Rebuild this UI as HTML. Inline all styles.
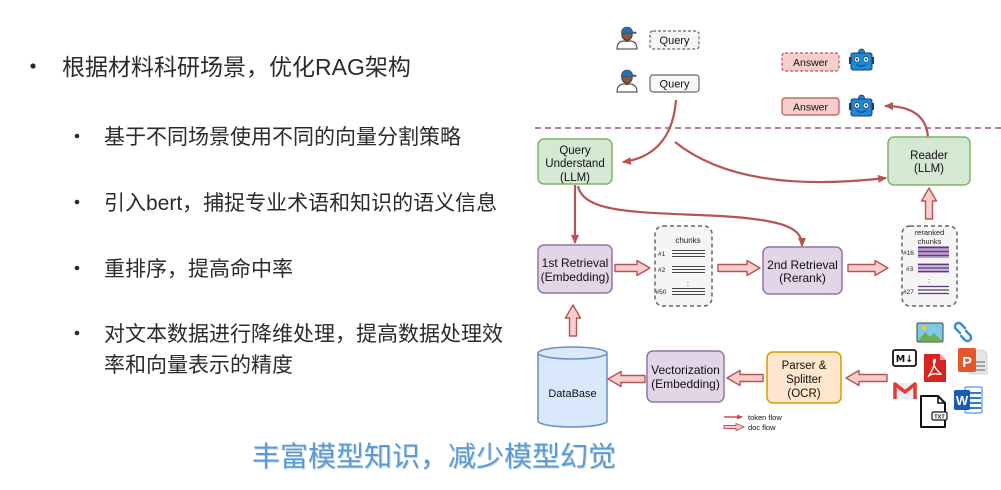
<!DOCTYPE html>
<html><head><meta charset="utf-8"><style>
html,body{margin:0;padding:0;background:#fff;}
svg{display:block}
</style></head><body>
<svg width="1001" height="490" viewBox="0 0 1001 490" xmlns="http://www.w3.org/2000/svg">
<defs>
<marker id="ah" markerWidth="10" markerHeight="10" refX="8" refY="5" orient="auto" markerUnits="userSpaceOnUse">
<path d="M0,1 L9,5 L0,9 z" fill="#b85450"/>
</marker>
<marker id="ahs" markerWidth="6" markerHeight="6" refX="5" refY="3" orient="auto" markerUnits="userSpaceOnUse">
<path d="M0,0.5 L6,3 L0,5.5 z" fill="#b85450"/>
</marker>
</defs>
<rect width="1001" height="490" fill="#fff"/>

<!-- Left text -->
<g font-family='"Liberation Sans","Noto Sans CJK SC",sans-serif' fill="#2b2b2b">
<circle cx="33" cy="66" r="2.6"/>
<text x="62" y="75" font-size="23">根据材料科研场景，优化RAG架构</text>
<circle cx="77" cy="136" r="2.3"/>
<text x="104" y="144" font-size="21">基于不同场景使用不同的向量分割策略</text>
<circle cx="77" cy="202" r="2.3"/>
<text x="104" y="210" font-size="21">引入bert，捕捉专业术语和知识的语义信息</text>
<circle cx="77" cy="268" r="2.3"/>
<text x="104" y="276" font-size="21">重排序，提高命中率</text>
<circle cx="77" cy="333" r="2.3"/>
<text x="104" y="341" font-size="21">对文本数据进行降维处理，提高数据处理效</text>
<text x="104" y="372" font-size="21">率和向量表示的精度</text>
</g>
<g font-family='"Liberation Sans","Noto Sans CJK SC",sans-serif' font-size="28">
<text x="253" y="467" fill="#c9d6e3">丰富模型知识，减少模型幻觉</text>
<text x="252" y="466" fill="#5b9bd5">丰富模型知识，减少模型幻觉</text>
</g>

<!-- dashed separator -->
<line x1="535" y1="128" x2="1001" y2="128" stroke="#b97ca0" stroke-width="2" stroke-dasharray="6,4"/>

<!-- persons -->
<g>
<path d="M617,49 Q617,42 623,41 L631,41 Q637,42 637,49 Z" fill="#fff" stroke="#333" stroke-width="1"/>
<rect x="625" y="38" width="4" height="4" fill="#8b5a3c"/>
<circle cx="627" cy="35" r="5.2" fill="#8b5a3c" stroke="#333" stroke-width="0.8"/>
<path d="M621.5,32 A5.5,5 0 0 1 632.5,32 L636,32 L636,33.5 L621.5,33.5 Z" fill="#2a6db5" stroke="#1f3e66" stroke-width="0.6"/>
</g>
<g transform="translate(0,43)">
<path d="M617,49 Q617,42 623,41 L631,41 Q637,42 637,49 Z" fill="#fff" stroke="#333" stroke-width="1"/>
<rect x="625" y="38" width="4" height="4" fill="#8b5a3c"/>
<circle cx="627" cy="35" r="5.2" fill="#8b5a3c" stroke="#333" stroke-width="0.8"/>
<path d="M621.5,32 A5.5,5 0 0 1 632.5,32 L636,32 L636,33.5 L621.5,33.5 Z" fill="#2a6db5" stroke="#1f3e66" stroke-width="0.6"/>
</g>

<g font-family='"Liberation Sans",sans-serif' fill="#111" text-anchor="middle">
<rect x="650" y="31" width="49" height="18" rx="3" fill="#f5f5f5" stroke="#666" stroke-width="1.2" stroke-dasharray="3,2"/>
<text x="674.5" y="44" font-size="11">Query</text>
<rect x="650" y="75" width="49" height="17" rx="3" fill="#f7f7f7" stroke="#666" stroke-width="1.2"/>
<text x="674.5" y="87.5" font-size="11">Query</text>

<rect x="782" y="53" width="57" height="18" rx="3" fill="#f8cecc" stroke="#b85450" stroke-width="1.2" stroke-dasharray="3,2"/>
<text x="810.5" y="66" font-size="10.5">Answer</text>
<rect x="782" y="98" width="57" height="17" rx="3" fill="#f8cecc" stroke="#b85450" stroke-width="1.2"/>
<text x="810.5" y="110.5" font-size="10.5">Answer</text>
</g>

<!-- robots -->
<g>
<circle cx="861.5" cy="52" r="3" fill="#1d8ad9" stroke="#1a3b6a" stroke-width="0.8"/>
<rect x="849" y="57" width="3" height="7" fill="#1a3b6a"/>
<rect x="871" y="57" width="3" height="7" fill="#1a3b6a"/>
<rect x="851" y="53" width="21" height="17" rx="2" fill="#1d8ad9" stroke="#1a3b6a" stroke-width="1"/>
<circle cx="857" cy="59.5" r="2.8" fill="#fff" stroke="#1a3b6a" stroke-width="0.7"/>
<circle cx="866" cy="59.5" r="2.8" fill="#fff" stroke="#1a3b6a" stroke-width="0.7"/>
<circle cx="857" cy="59.5" r="1.1" fill="#1a3b6a"/>
<circle cx="866" cy="59.5" r="1.1" fill="#1a3b6a"/>
<path d="M856.5,64.5 Q861.5,68 866.5,64.5" fill="none" stroke="#1a3b6a" stroke-width="1"/>
</g>
<g transform="translate(0,46)">
<circle cx="861.5" cy="52" r="3" fill="#1d8ad9" stroke="#1a3b6a" stroke-width="0.8"/>
<rect x="849" y="57" width="3" height="7" fill="#1a3b6a"/>
<rect x="871" y="57" width="3" height="7" fill="#1a3b6a"/>
<rect x="851" y="53" width="21" height="17" rx="2" fill="#1d8ad9" stroke="#1a3b6a" stroke-width="1"/>
<circle cx="857" cy="59.5" r="2.8" fill="#fff" stroke="#1a3b6a" stroke-width="0.7"/>
<circle cx="866" cy="59.5" r="2.8" fill="#fff" stroke="#1a3b6a" stroke-width="0.7"/>
<circle cx="857" cy="59.5" r="1.1" fill="#1a3b6a"/>
<circle cx="866" cy="59.5" r="1.1" fill="#1a3b6a"/>
<path d="M856.5,64.5 Q861.5,68 866.5,64.5" fill="none" stroke="#1a3b6a" stroke-width="1"/>
</g>

<!-- token flow arrows -->
<g fill="none" stroke="#b85450" stroke-width="2.2">
<path d="M676,100 C673,140 652,158 623,162" marker-end="url(#ah)"/>
<path d="M675,142 C720,178 790,189 886,178" marker-end="url(#ah)"/>
<path d="M928,137 C926,112 906,106 885,106" marker-end="url(#ah)"/>
<path d="M575,185 L575,243" marker-end="url(#ah)"/>
<path d="M578,186 C584,214 640,212 720,216 C790,220 802,230 802,246" marker-end="url(#ah)"/>
</g>

<!-- boxes -->
<g stroke-width="1.5">
<rect x="538" y="139" width="74" height="45" rx="6" fill="#d5e8d4" stroke="#82b366"/>
<rect x="538" y="245" width="74" height="48" rx="6" fill="#e1d5e7" stroke="#9673a6"/>
<rect x="655" y="226" width="57" height="80" rx="8" fill="#f5f5f5" stroke="#666" stroke-dasharray="4,3"/>
<rect x="763" y="247" width="79" height="47" rx="6" fill="#e1d5e7" stroke="#9673a6"/>
<rect x="902" y="226" width="55" height="80" rx="8" fill="#f5f5f5" stroke="#666" stroke-dasharray="4,3"/>
<rect x="888" y="137" width="82" height="48" rx="6" fill="#d5e8d4" stroke="#82b366"/>
<rect x="647" y="351" width="77" height="51" rx="6" fill="#e1d5e7" stroke="#9673a6"/>
<rect x="767" y="352" width="74" height="51" rx="6" fill="#ffe6cc" stroke="#d79b00"/>
<path d="M538,353 A34.5,6 0 0 1 607,353 L607,421 A34.5,6 0 0 1 538,421 Z" fill="#dae8fc" stroke="#6c8ebf"/>
<path d="M538,353 A34.5,6 0 0 0 607,353" fill="none" stroke="#6c8ebf"/>
</g>

<!-- doc flow block arrows -->
<g fill="#f8cecc" stroke="#b85450" stroke-width="1.4" stroke-linejoin="round">
<polygon points="615,264.5 637,264.5 637,260.5 650,268 637,275.5 637,271.5 615,271.5"/>
<polygon points="718,264.5 747,264.5 747,260.5 760,268 747,275.5 747,271.5 718,271.5"/>
<polygon points="848,264.5 875,264.5 875,260.5 888,268 875,275.5 875,271.5 848,271.5"/>
<polygon points="925.5,219 925.5,201 921.5,201 929,188 936.5,201 932.5,201 932.5,219"/>
<polygon points="569.5,336 569.5,318 565.5,318 573,305 580.5,318 576.5,318 576.5,336"/>
<polygon points="645,375.5 621,375.5 621,371.5 608,379 621,386.5 621,382.5 645,382.5"/>
<polygon points="763,374.5 740,374.5 740,370.5 727,378 740,385.5 740,381.5 763,381.5"/>
<polygon points="887,374.5 859,374.5 859,370.5 846,378 859,385.5 859,381.5 887,381.5"/>
</g>

<!-- box labels -->
<g font-family='"Liberation Sans",sans-serif' fill="#111" text-anchor="middle" font-size="11.5">
<text x="575" y="154">Query</text>
<text x="575" y="167">Understand</text>
<text x="575" y="181">(LLM)</text>
<text x="575" y="267" font-size="12">1st Retrieval</text>
<text x="575" y="281" font-size="12">(Embedding)</text>
<text x="802.5" y="269" font-size="12">2nd Retrieval</text>
<text x="802.5" y="282" font-size="12">(Rerank)</text>
<text x="929" y="159">Reader</text>
<text x="929" y="172">(LLM)</text>
<text x="685.5" y="374" font-size="12">Vectorization</text>
<text x="685.5" y="388" font-size="12">(Embedding)</text>
<text x="804" y="369">Parser &amp;</text>
<text x="804" y="383">Splitter</text>
<text x="804" y="397">(OCR)</text>
<text x="572.5" y="397" font-size="11">DataBase</text>
</g>

<!-- chunks content -->
<g font-family='"Liberation Sans",sans-serif' fill="#222">
<text x="688" y="243" font-size="8" text-anchor="middle">chunks</text>
<text x="658" y="256" font-size="6.5">#1</text>
<text x="658" y="272" font-size="6.5">#2</text>
<text x="688" y="286" font-size="7" text-anchor="middle">:</text>
<text x="655.5" y="294" font-size="6.5">#50</text>
</g>
<g stroke="#444" stroke-width="1">
<line x1="672" y1="250.5" x2="705" y2="250.5"/><line x1="672" y1="253.5" x2="705" y2="253.5"/><line x1="672" y1="256.5" x2="705" y2="256.5"/>
<line x1="672" y1="266.5" x2="705" y2="266.5"/><line x1="672" y1="269.5" x2="705" y2="269.5"/><line x1="672" y1="272.5" x2="705" y2="272.5"/>
<line x1="672" y1="288.5" x2="705" y2="288.5"/><line x1="672" y1="291.5" x2="705" y2="291.5"/><line x1="672" y1="294.5" x2="705" y2="294.5"/>
</g>

<!-- reranked content -->
<g font-family='"Liberation Sans",sans-serif' fill="#222">
<text x="929.5" y="235" font-size="7.5" text-anchor="middle">reranked</text>
<text x="929.5" y="244" font-size="7.5" text-anchor="middle">chunks</text>
<text x="903" y="255" font-size="6.5">#16</text>
<text x="906" y="271" font-size="6.5">#3</text>
<text x="929" y="283" font-size="7" text-anchor="middle">:</text>
<text x="903" y="294" font-size="6.5">#27</text>
</g>
<rect x="918" y="246" width="31" height="12" fill="#b99bcb"/>
<rect x="918" y="263" width="31" height="10" fill="#cfb6dc"/>
<g stroke="#5b3b73" stroke-width="1.3">
<line x1="918" y1="247.5" x2="949" y2="247.5"/><line x1="918" y1="251.5" x2="949" y2="251.5"/><line x1="918" y1="255.5" x2="949" y2="255.5"/>
<line x1="918" y1="264.5" x2="949" y2="264.5"/><line x1="918" y1="268" x2="949" y2="268"/><line x1="918" y1="271.5" x2="949" y2="271.5"/>
<line x1="918" y1="286.5" x2="949" y2="286.5"/><line x1="918" y1="290" x2="949" y2="290"/><line x1="918" y1="293.5" x2="949" y2="293.5"/>
</g>

<!-- legend -->
<line x1="724" y1="417" x2="742" y2="417" stroke="#b85450" stroke-width="1.6" marker-end="url(#ahs)"/>
<polygon points="724,425.5 736,425.5 736,423.5 744,427 736,430.5 736,428.5 724,428.5" fill="#f8cecc" stroke="#b85450" stroke-width="0.9"/>
<g font-family='"Liberation Sans",sans-serif' fill="#111" font-size="7.5">
<text x="748" y="420">token flow</text>
<text x="748" y="430">doc flow</text>
</g>

<!-- icons -->
<rect x="917" y="323" width="26" height="19" rx="1.5" fill="#7ec8ec" stroke="#444" stroke-width="1"/>
<polygon points="918,341 925,332 930,337 934,333 942,341" fill="#6ab04c"/>
<circle cx="924" cy="328" r="2.5" fill="#f6c343"/>
<g fill="none" stroke="#3d8ee0" stroke-width="2.6" stroke-linecap="round">
<path d="M960,333 L956,329 A3.5,3.5 0 0 1 961,324 L965,328"/>
<path d="M966,331 L970,335 A3.5,3.5 0 0 1 965,340 L961,336"/>
</g>
<rect x="893" y="350" width="23" height="16" rx="2" fill="#fff" stroke="#111" stroke-width="1.8"/>
<text x="904.5" y="362" font-family='"DejaVu Sans",sans-serif' font-weight="bold" font-size="9.5" text-anchor="middle" fill="#111">M↓</text>
<path d="M924,354 L940,354 L946,360 L946,382 L924,382 Z" fill="#d8231f"/>
<path d="M940,354 L940,360 L946,360 Z" fill="#f29a98"/>
<path d="M928,377 Q933,370 935,362 Q936,358 934,360 Q932,366 940,373 Q943,375 937,374 Q931,373 928,377" fill="none" stroke="#fff" stroke-width="1.4"/>
<path d="M969,350 L983,350 L987,354 L987,374 L969,374 Z" fill="#e5e5e5" stroke="#bbb" stroke-width="0.6"/>
<line x1="975" y1="362" x2="985" y2="362" stroke="#777" stroke-width="1.2"/>
<line x1="975" y1="366" x2="985" y2="366" stroke="#777" stroke-width="1.2"/>
<line x1="975" y1="370" x2="985" y2="370" stroke="#777" stroke-width="1.2"/>
<rect x="958" y="348" width="18" height="24" rx="2" fill="#e4572e"/>
<text x="967" y="367" font-family='"Liberation Sans",sans-serif' font-weight="bold" font-size="15" text-anchor="middle" fill="#fff">P</text>
<rect x="893" y="383" width="24" height="16" fill="#eceff1"/>
<path d="M895,399 L895,384 L905,392 L915,384 L915,399" fill="none" stroke="#e53935" stroke-width="3.5" stroke-linejoin="round"/>
<path d="M921,396 L938,396 L945,403 L945,427 L921,427 Z" fill="#fff" stroke="#111" stroke-width="2" stroke-linejoin="round"/>
<path d="M938,396 L938,403 L945,403" fill="none" stroke="#111" stroke-width="1.6"/>
<rect x="932" y="412" width="15" height="8" rx="1.5" fill="#fff" stroke="#111" stroke-width="1.2"/>
<text x="939.5" y="418.5" font-family='"Liberation Sans",sans-serif' font-weight="bold" font-size="5.5" text-anchor="middle" fill="#111">TXT</text>
<rect x="965" y="387" width="17" height="26" rx="1.5" fill="#fff" stroke="#2b7cd3" stroke-width="1"/>
<g stroke="#2b7cd3" stroke-width="2">
<line x1="968" y1="393" x2="981" y2="393"/><line x1="968" y1="398" x2="981" y2="398"/><line x1="968" y1="403" x2="981" y2="403"/><line x1="968" y1="408" x2="981" y2="408"/>
</g>
<rect x="954" y="390" width="16" height="20" rx="1.5" fill="#185abd"/>
<text x="962" y="405" font-family='"Liberation Sans",sans-serif' font-weight="bold" font-size="13" text-anchor="middle" fill="#fff">W</text>
</svg>
</body></html>
